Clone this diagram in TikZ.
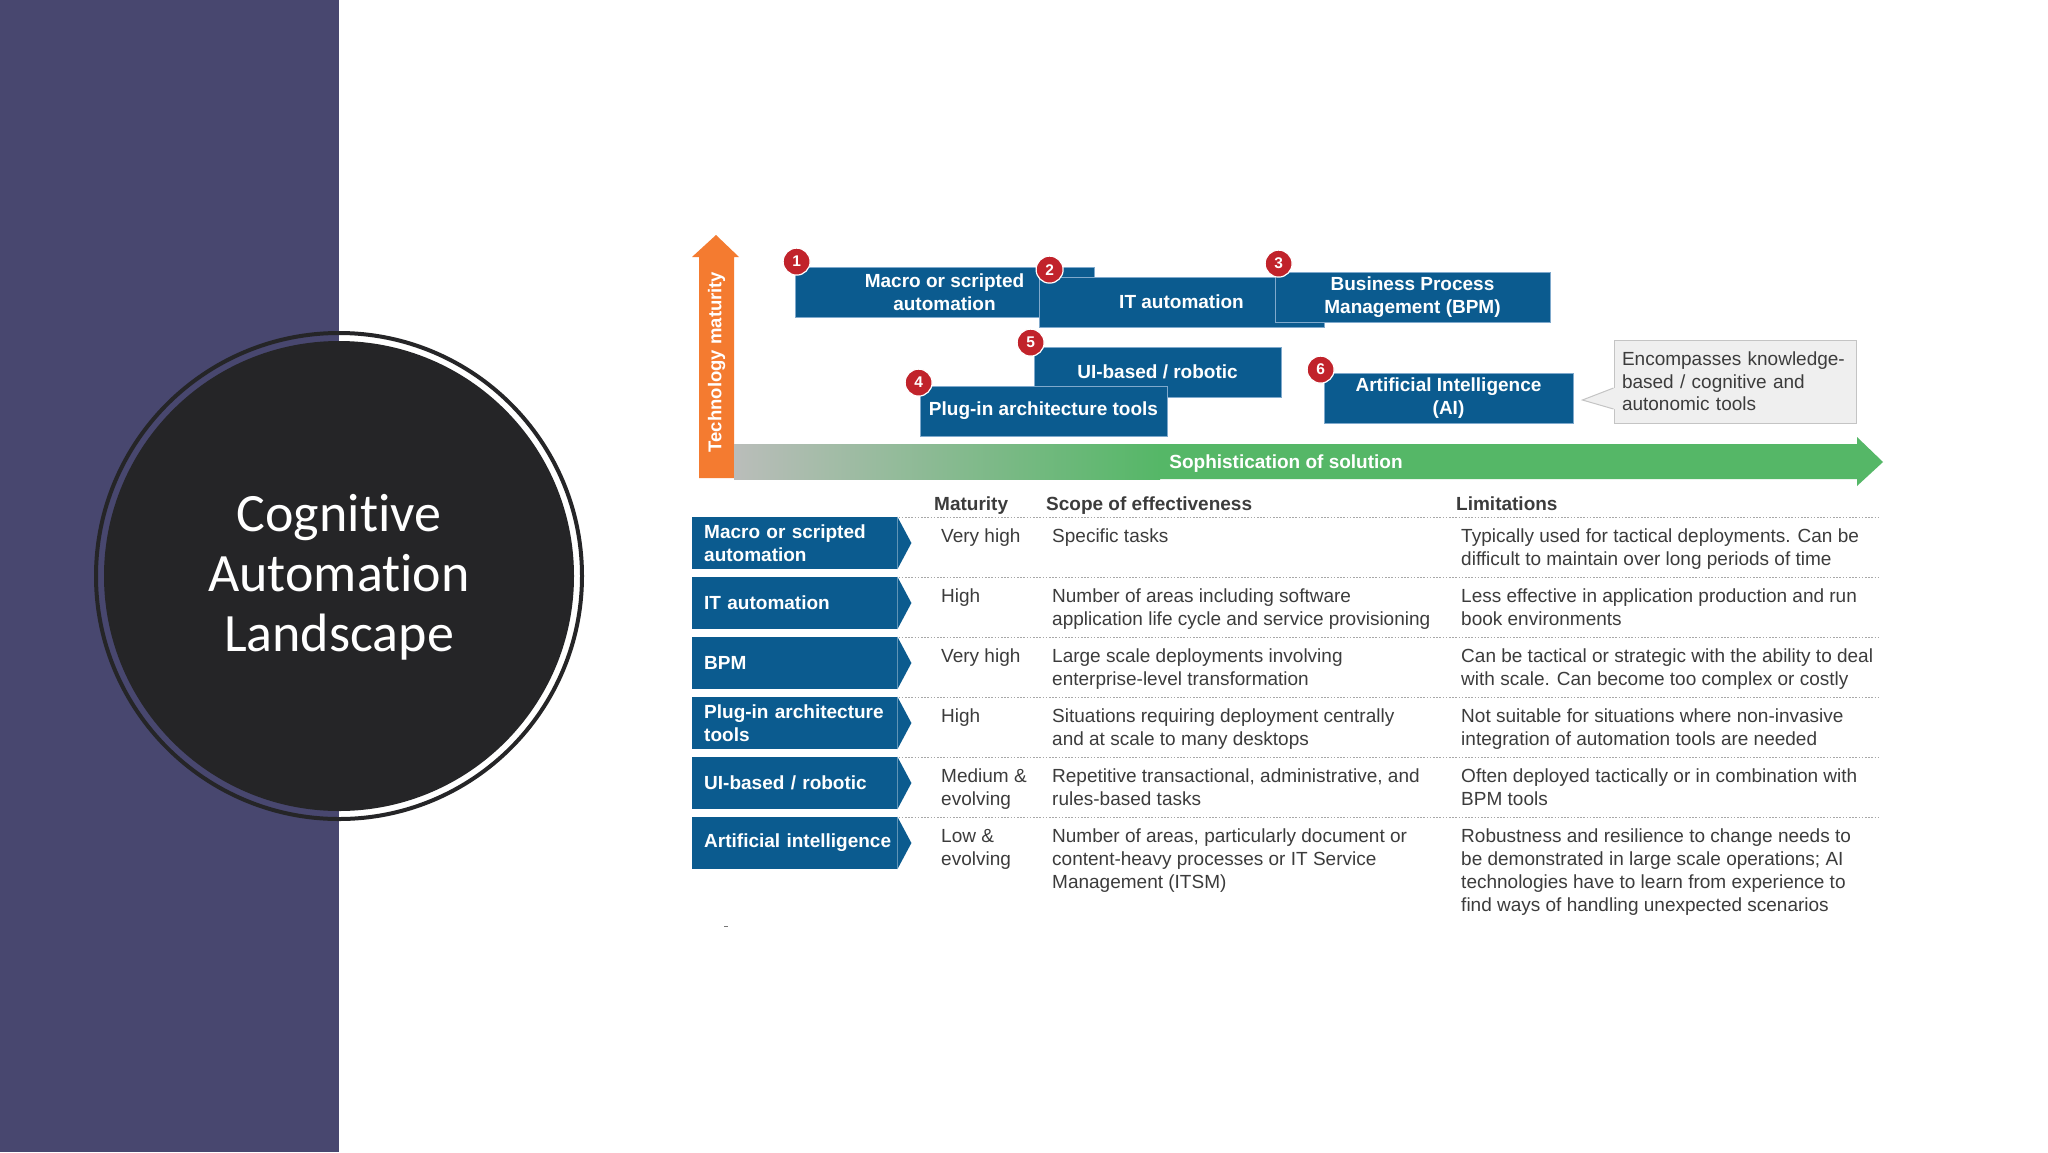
\documentclass[tikz,border=0pt]{standalone}
\usepackage{fontspec}
\setmainfont{Liberation Sans}
\newfontfamily\titlefont[Ligatures=NoCommon]{Carlito}
\usepackage{xcolor}
\usetikzlibrary{calc}

\definecolor{panelpurple}{HTML}{48476F}
\definecolor{discdark}{HTML}{252527}
\definecolor{boxblue}{HTML}{0B5B8F}
\definecolor{boxedge}{HTML}{7FA9CC}
\definecolor{badgered}{HTML}{C1232B}
\definecolor{axisorange}{HTML}{F47B30}
\definecolor{axisgreen}{HTML}{55B767}
\definecolor{axisgrey}{HTML}{BABDBA}
\definecolor{notefill}{HTML}{EFEFEF}
\definecolor{noteedge}{HTML}{C4C4C4}
\definecolor{bodytext}{HTML}{3C3C3C}
\definecolor{rulegrey}{HTML}{A8A8A8}

\newcommand{\bodysize}{\fontsize{19}{22.7}\selectfont}

\tikzset{
    toolbox/.style={fill=boxblue, draw=boxedge, line width=0.8pt, text=white,
        font=\bodysize\bfseries, align=center, inner sep=0pt, minimum height=50pt},
    badge/.style={circle, fill=badgered, draw=white, line width=1.2pt,
        minimum size=27pt, inner sep=0pt, text=white,
        font=\fontsize{15.5}{15.5}\selectfont\bfseries},
    rowtag/.style={rectangle, fill=boxblue, text=white, font=\bodysize\bfseries,
        anchor=west, minimum width=205pt, minimum height=52pt, text width=181pt,
        inner xsep=12pt, inner ysep=0pt, align=left},
    cell/.style={anchor=north west, inner sep=0pt, text=bodytext, align=left},
    colhead/.style={anchor=base west, inner sep=0pt, text=bodytext,
        font=\bodysize\bfseries},
    tablerule/.style={rulegrey, line width=0.9pt, dash pattern=on 1.6pt off 1.6pt},
    notebox/.style={fill=notefill, draw=noteedge, line width=1pt,
        minimum width=242pt, minimum height=83pt, text width=226pt,
        inner xsep=8pt, align=left, text=bodytext}
}

\begin{document}
\begin{tikzpicture}[
    x=1pt, y=-1pt,
    font=\bodysize
]

\useasboundingbox (0,0) rectangle (2048,1152);
\fill[white] (0,0) rectangle (2048,1152);

% Title panel
\fill[panelpurple] (0,0) rectangle (339,1152);
\draw[discdark, line width=4pt] (339,576) circle (243);
\fill[discdark] (339,576) circle (235);
\node[text=white, align=center, font=\titlefont\fontsize{54}{60}\selectfont]
    (title) at (339,577) {Cognit\kern0pt ive\\Automat\kern0pt ion\\Landscape};

% Axes
\fill[axisorange] (699,478) -- (699,257) -- (692,257) -- (716,235)
    -- (739,257) -- (734,257) -- (734,478) -- cycle;
\fill[axisgreen] (734,444) -- (1857,444) -- (1857,437) -- (1883,462)
    -- (1857,486) -- (1857,479) -- (734,479) -- cycle;
\shade[left color=axisgrey, right color=axisgreen] (734,444) rectangle (1160,479);

\node[rotate=90, text=white, font=\fontsize{18.5}{20}\selectfont\bfseries]
    (maturity) at (716.5,362) {Technology maturity};
\node[text=white, font=\bodysize\bfseries]
    (sophistication) at (1286,464) {Sophistication of solution};

% Tool boxes
\node[toolbox, minimum width=299pt] (macro) at (944.5,292) {Macro or scripted\\automation};
\node[toolbox, minimum width=285pt] (itauto) at (1181.5,302) {IT automation};
\node[toolbox, minimum width=275pt] (bpm) at (1412.5,297) {Business Process\\Management (BPM)};
\node[toolbox, minimum width=247pt] (uibased) at (1157.5,372) {UI-based / robotic};
\node[toolbox, minimum width=247pt] (plugin) at (1043.5,411) {Plug-in architecture tools};
\node[toolbox, minimum width=249pt] (ai) at (1448.5,398) {Artificial Intelligence\\(AI)};

% Callout
\node[notebox] (note) at (1735,381.5) {Encompasses knowledge-\\based / cognitive and\\autonomic tools};
\coordinate (notetip) at ($(ai.east)+(9,2)$);
\fill[notefill] ($(note.west)+(0,6.5)$) -- (notetip) -- ($(note.west)+(0,27.5)$)
    -- ($(note.west)+(1.5,27.5)$) -- ($(note.west)+(1.5,6.5)$) -- cycle;
\draw[noteedge, line width=1pt]
    ($(note.west)+(0,6.5)$) -- (notetip) -- ($(note.west)+(0,27.5)$);

% Numbers
\node[badge] (n1) at ([shift={(2,-5)}]macro.north west) {1};
\node[badge] (n2) at ([shift={(11,-7)}]itauto.north west) {2};
\node[badge] (n3) at ([shift={(4,-8)}]bpm.north west) {3};
\node[badge] (n4) at ([shift={(-1,-3)}]plugin.north west) {4};
\node[badge] (n5) at ([shift={(-3,-4)}]uibased.north west) {5};
\node[badge] (n6) at ([shift={(-3,-3)}]ai.north west) {6};

% Table header
\node[colhead] (hmat) at (934,510) {Maturity};
\node[colhead] (hscope) at (1046,510) {Scope of effectiveness};
\node[colhead] (hlimit) at (1456,510) {Limitations};

% Table rules
\draw[tablerule] (873,517) -- (1878,517);
\draw[tablerule] (873,577) -- (1878,577);
\draw[tablerule] (873,637) -- (1878,637);
\draw[tablerule] (873,697) -- (1878,697);
\draw[tablerule] (873,757) -- (1878,757);
\draw[tablerule] (873,817) -- (1878,817);

% Row tags
\node[rowtag] (tag1) at (692,543) {Macro or scripted\\automation};
\node[rowtag] (tag2) at (692,603) {IT automation};
\node[rowtag] (tag3) at (692,663) {BPM};
\node[rowtag] (tag4) at (692,723) {Plug-in architecture\\tools};
\node[rowtag] (tag5) at (692,783) {UI-based / robotic};
\node[rowtag] (tag6) at (692,843) {\mbox{Artificial intelligence}};

\fill[boxblue] (tag1.north east) -- ($(tag1.east)+(14,0)$) -- (tag1.south east) -- cycle;
\fill[boxblue] (tag2.north east) -- ($(tag2.east)+(14,0)$) -- (tag2.south east) -- cycle;
\fill[boxblue] (tag3.north east) -- ($(tag3.east)+(14,0)$) -- (tag3.south east) -- cycle;
\fill[boxblue] (tag4.north east) -- ($(tag4.east)+(14,0)$) -- (tag4.south east) -- cycle;
\fill[boxblue] (tag5.north east) -- ($(tag5.east)+(14,0)$) -- (tag5.south east) -- cycle;
\fill[boxblue] (tag6.north east) -- ($(tag6.east)+(14,0)$) -- (tag6.south east) -- cycle;

% Row cells
\node[cell] (mat1) at (941,529) {Very high};
\node[cell] (scope1) at (1052,529) {Specific tasks};
\node[cell] (limit1) at (1461,529) {Typically used for tactical deployments. Can be\\difficult to maintain over long periods of time};

\node[cell] (mat2) at (941,589) {High};
\node[cell] (scope2) at (1052,589) {Number of areas including software\\application life cycle and service provisioning};
\node[cell] (limit2) at (1461,589) {Less effective in application production and run\\book environments};

\node[cell] (mat3) at (941,649) {Very high};
\node[cell] (scope3) at (1052,649) {Large scale deployments involving\\enterprise-level transformation};
\node[cell] (limit3) at (1461,649) {Can be tactical or strategic with the ability to deal\\with scale. Can become too complex or costly};

\node[cell] (mat4) at (941,709) {High};
\node[cell] (scope4) at (1052,709) {Situations requiring deployment centrally\\and at scale to many desktops};
\node[cell] (limit4) at (1461,709) {Not suitable for situations where non-invasive\\integration of automation tools are needed};

\node[cell] (mat5) at (941,769) {Medium \&\\evolving};
\node[cell] (scope5) at (1052,769) {Repetitive transactional, administrative, and\\rules-based tasks};
\node[cell] (limit5) at (1461,769) {Often deployed tactically or in combination with\\BPM tools};

\node[cell] (mat6) at (941,829) {Low \&\\evolving};
\node[cell] (scope6) at (1052,829) {Number of areas, particularly document or\\content-heavy processes or IT Service\\Management (ITSM)};
\node[cell] (limit6) at (1461,829) {Robustness and resilience to change needs to\\be demonstrated in large scale operations; AI\\technologies have to learn from experience to\\find ways of handling unexpected scenarios};

% Stray mark
\draw[bodytext!70, line width=1pt] (724,926) -- (728,926);

\end{tikzpicture}
\end{document}
